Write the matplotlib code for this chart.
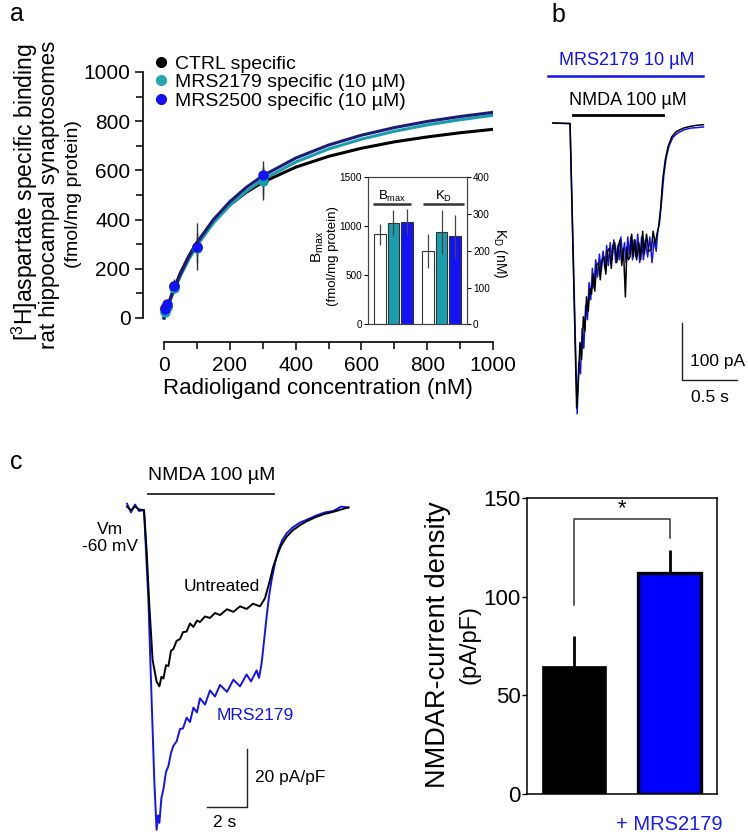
import matplotlib

matplotlib.use("Agg")
import matplotlib.pyplot as plt
from matplotlib.lines import Line2D

plt.rcParams["font.family"] = ["Liberation Sans", "DejaVu Sans"]
plt.rcParams["mathtext.fontset"] = "custom"
plt.rcParams["mathtext.rm"] = "Liberation Sans"

BLACK = "#000000"
TEAL = "#1a9dac"
BLUE = "#1212f5"
NAVY = "#1c1c78"

# ---- panel a: saturation binding ----
series_names = ["CTRL specific", "MRS2179 specific (10 µM)", "MRS2500 specific (10 µM)"]
conc = [3, 10, 30, 100, 300]
bound_ctrl = [40, 50, 130, 290, 560]
bound_mrs2179 = [25, 45, 120, 285, 555]
bound_mrs2500 = [35, 55, 132, 290, 580]
err_ctrl = [10, 10, 30, 95, 80]
err_mrs2179 = [8, 8, 20, 60, 60]
err_mrs2500 = [6, 6, 12, 35, 35]

curve_x = [0, 10, 25, 50, 75, 100, 150, 200, 250, 300, 400, 500, 600, 700, 800, 900, 1000]
curve_ctrl = [0, 44, 102, 184, 251, 307, 394, 460, 511, 552, 613, 657, 690, 716, 736, 753, 767]
curve_mrs2179 = [0, 40, 94, 172, 238, 294, 386, 458, 515, 562, 634, 687, 727, 759, 785, 806, 824]
curve_mrs2500 = [0, 42, 98, 179, 248, 306, 400, 473, 531, 578, 650, 703, 743, 774, 799, 819, 836]

# inset: Bmax (left axis) and KD (right axis)
bmax_values = [918, 1031, 1041]
bmax_err = [105, 133, 133]
kd_values = [200, 251, 239]
kd_err = [47, 61, 59]

# ---- panel b: NMDA current with MRS2179 ----
b_time_ctrl = [0, 0.155, 0.215, 0.23, 0.245, 0.26, 0.276, 0.29, 0.305, 0.321,
               0.335, 0.35, 0.367, 0.38, 0.395, 0.415, 0.43, 0.445, 0.464, 0.48,
               0.495, 0.512, 0.53, 0.545, 0.561, 0.58, 0.595, 0.609, 0.625, 0.64,
               0.658, 0.672, 0.685, 0.70, 0.715, 0.73, 0.745, 0.76, 0.78, 0.797,
               0.815, 0.83, 0.85, 0.87, 0.894, 0.91, 0.93, 0.945, 0.96, 0.978,
               0.997, 1.02, 1.045, 1.08, 1.12, 1.185, 1.245, 1.305, 1.367]
b_curr_ctrl = [0, -1, -500, -455, -385, -415, -340, -365, -305, -330,
               -290, -300, -265, -295, -250, -245, -275, -240, -235, -265,
               -225, -220, -255, -215, -210, -245, -215, -205, -250, -220,
               -305, -218, -240, -235, -195, -235, -205, -240, -210, -240,
               -190, -230, -195, -225, -222, -190, -212, -195, -182, -150,
               -100, -65, -42, -24, -15, -9, -6, -4, -3]
b_time_mrs = [0, 0.155, 0.22, 0.235, 0.25, 0.265, 0.28, 0.297, 0.313, 0.328,
              0.343, 0.358, 0.373, 0.388, 0.405, 0.422, 0.438, 0.455, 0.472, 0.488,
              0.503, 0.52, 0.537, 0.553, 0.57, 0.588, 0.602, 0.617, 0.633, 0.65,
              0.665, 0.68, 0.693, 0.708, 0.723, 0.738, 0.753, 0.77, 0.788, 0.805,
              0.822, 0.84, 0.86, 0.88, 0.9, 0.92, 0.938, 0.952, 0.968, 0.988,
              1.008, 1.03, 1.055, 1.09, 1.13, 1.19, 1.25, 1.31, 1.367]
b_curr_mrs = [0, -1, -510, -420, -440, -360, -395, -320, -345, -280,
              -310, -255, -290, -240, -270, -230, -260, -225, -255, -215,
              -250, -210, -240, -205, -245, -215, -240, -200, -235, -210,
              -245, -200, -230, -200, -240, -205, -235, -195, -245, -200,
              -240, -205, -235, -200, -245, -205, -225, -190, -175, -135,
              -90, -60, -40, -25, -18, -12, -9, -8, -7]

# ---- panel c: current density traces ----
c_time_ctrl = [0, 0.2, 0.4, 0.6, 0.85, 0.98, 1.12, 1.28, 1.48, 1.62,
               1.72, 1.82, 1.95, 2.07, 2.2, 2.32, 2.48, 2.65, 2.8, 2.98,
               3.15, 3.32, 3.5, 3.65, 3.9, 4.15, 4.4, 4.65, 5.0, 5.32,
               5.65, 5.98, 6.3, 6.65, 6.9, 7.15, 7.3, 7.48, 7.7, 7.98,
               8.3, 8.65, 9.0, 9.48, 9.9, 10.32, 10.7, 11.07]
c_dens_ctrl = [0.5, -0.8, 0.6, -0.5, -0.7, -14.5, -34, -52.4, -59.9, -61.5,
               -58.2, -58.8, -54.2, -54.5, -49.2, -48.6, -45.8, -45.2, -42.8, -42.6,
               -39.8, -41.0, -38.8, -39.3, -37.4, -37.9, -36.2, -36.9, -34.9, -35.8,
               -33.9, -34.8, -33.0, -33.9, -31.1, -24.8, -20.5, -16.8, -13.0, -9.9,
               -7.6, -5.9, -4.5, -3, -2.0, -1.3, -0.5, 0.2]
c_time_mrs = [0, 0.2, 0.4, 0.6, 0.85, 1.07, 1.23, 1.37, 1.48, 1.55,
              1.62, 1.72, 1.82, 1.95, 2.07, 2.2, 2.32, 2.48, 2.65, 2.8,
              2.98, 3.15, 3.32, 3.5, 3.65, 3.9, 4.15, 4.4, 4.65, 5.0,
              5.32, 5.65, 5.98, 6.2, 6.48, 6.6, 6.73, 6.85, 6.98, 7.1,
              7.23, 7.4, 7.57, 7.75, 7.98, 8.3, 8.65, 9.0, 9.48, 9.9,
              10.32, 10.7, 11.07]
c_dens_mrs = [1.5, -1.5, 1.2, -1.0, -0.7, -31.7, -66, -95, -111, -106,
              -108.6, -100, -97, -91, -89, -84.5, -82.0, -80.5, -76.2, -76.0,
              -72.3, -73.8, -68.8, -70.5, -65.6, -67.8, -62.9, -65.0, -61.0, -63.4,
              -59.2, -61.5, -57.4, -59.8, -56.0, -58.6, -53.6, -46, -37.5, -30.5,
              -24.8, -19, -14.5, -11.2, -8.7, -6.6, -5, -4, -2.5, -1.5,
              -1.0, 0.5, 0.2]

density_groups = ["Untreated", "+ MRS2179"]
density_mean = [64.6, 112.0]
density_sem = [15.6, 11.8]

W, H = 748, 840


def rect(left, top, right, bottom):
    return [left / W, 1 - bottom / H, (right - left) / W, (bottom - top) / H]


fig = plt.figure(figsize=(W / 100, H / 100), dpi=100)

# ================= panel a =================
ax = fig.add_axes(rect(143, 72, 493, 342))
for cy, color in ((curve_ctrl, BLACK), (curve_mrs2179, TEAL), (curve_mrs2500, NAVY)):
    ax.plot(curve_x, cy, color=color, linewidth=2.2, zorder=2)
for y, e, color in ((bound_ctrl, err_ctrl, BLACK),
                    (bound_mrs2179, err_mrs2179, TEAL),
                    (bound_mrs2500, err_mrs2500, BLUE)):
    ax.errorbar(conc, y, yerr=e, fmt="o", color=color, ecolor="#333333",
                elinewidth=1.0, capsize=0, markersize=6.5, zorder=3, clip_on=False)
ax.set_xlim(-64, 1000)
ax.set_ylim(-97.6, 1000)
for side in ("top", "right"):
    ax.spines[side].set_visible(False)
ax.spines["left"].set_bounds(0, 1000)
ax.spines["bottom"].set_bounds(0, 1000)
for s in ("left", "bottom"):
    ax.spines[s].set_linewidth(1.2)
ax.set_xticks(range(0, 1001, 200))
ax.set_xticks(range(100, 1000, 200), minor=True)
ax.set_yticks(range(0, 1001, 200))
ax.set_yticks(range(100, 1000, 200), minor=True)
ax.tick_params(which="both", direction="out", width=1.1, labelsize=15)
ax.tick_params(which="major", length=6)
ax.tick_params(which="minor", length=5)
ax.tick_params(axis="y", pad=3)
ax.tick_params(axis="x", pad=4)
ax.set_xlabel("Radioligand concentration (nM)", fontsize=16, labelpad=2)

fig.text(25 / W, 1 - 192 / H, "[$\\mathregular{^3}$H]aspartate specific binding",
         rotation=90, ha="center", va="center", fontsize=16.5)
fig.text(50 / W, 1 - 195 / H, "rat hippocampal synaptosomes",
         rotation=90, ha="center", va="center", fontsize=16)
fig.text(74 / W, 1 - 194 / H, "(fmol/mg protein)",
         rotation=90, ha="center", va="center", fontsize=14)

handles = [Line2D([0], [0], marker="o", linestyle="none", color=c, markersize=7)
           for c in (BLACK, "#22a6b3", BLUE)]
fig.legend(handles, series_names, loc="upper left", bbox_to_anchor=(153 / W, 1 - 55 / H),
           frameon=False, fontsize=14, handlelength=0.8, handletextpad=0.35,
           labelspacing=0.05, borderpad=0, borderaxespad=0)

# inset
ins = fig.add_axes(rect(368.3, 177.3, 466.7, 324.3))
ins2 = ins.twinx()
bar_colors = ["white", TEAL, BLUE]
bmax_pos = [1.0, 2.15, 3.3]
kd_pos = [5.1, 6.25, 7.4]
ins.bar(bmax_pos, bmax_values, width=0.95, color=bar_colors, edgecolor="#333333",
        linewidth=0.8, zorder=2)
ins.errorbar(bmax_pos, bmax_values, yerr=bmax_err, fmt="none", ecolor="#444444",
             elinewidth=0.9, capsize=0, zorder=3)
ins2.bar(kd_pos, kd_values, width=0.95, color=bar_colors, edgecolor="#333333",
         linewidth=0.8, zorder=2)
ins2.errorbar(kd_pos, kd_values, yerr=kd_err, fmt="none", ecolor="#444444",
              elinewidth=0.9, capsize=0, zorder=3)
ins.set_xlim(0, 8.4)
ins.set_ylim(0, 1500)
ins2.set_ylim(0, 400)
ins.set_xticks([])
ins.set_yticks([0, 500, 1000, 1500])
ins2.set_yticks([0, 100, 200, 300, 400])
for a in (ins, ins2):
    a.tick_params(direction="out", length=3, width=0.8, labelsize=7.2, pad=1.5)
    for s in a.spines.values():
        s.set_linewidth(0.8)
        s.set_color("#444444")
ins.plot([0.4, 3.65], [1227, 1227], color="#333333", linewidth=1.8, solid_capstyle="butt")
ins.plot([4.67, 8.18], [1227, 1227], color="#333333", linewidth=1.8, solid_capstyle="butt")
ins.text(2.05, 1300, "$\\mathregular{B_{max}}$", ha="center", va="center", fontsize=9.5)
ins.text(6.4, 1300, "$\\mathregular{K_D}$", ha="center", va="center", fontsize=9.5)
fig.text(318 / W, 1 - 247 / H, "$\\mathregular{B_{max}}$", rotation=90,
         ha="center", va="center", fontsize=11)
fig.text(333 / W, 1 - 256 / H, "(fmol/mg protein)", rotation=90,
         ha="center", va="center", fontsize=9.5)
fig.text(500 / W, 1 - 253 / H, "$\\mathregular{K_D}$ (nM)", rotation=270,
         ha="center", va="center", fontsize=10)

fig.text(17 / W, 1 - 14 / H, "a", ha="center", va="center", fontsize=18)

# ================= panel b =================
axb = fig.add_axes(rect(540, 40, 745, 420))
axb.plot(b_time_mrs, b_curr_mrs, color=BLUE, linewidth=1.1)
axb.plot(b_time_ctrl, b_curr_ctrl, color=BLACK, linewidth=1.1)
axb.set_xlim(-0.118, 1.745)
axb.set_ylim(-521, 145.6)
axb.axis("off")
axb.text(0.673, 110.5, "MRS2179 10 µM", color=BLUE, ha="center", va="center", fontsize=13)
axb.plot([-0.045, 1.364], [82.5, 82.5], color=BLUE, linewidth=1.8)
axb.text(0.68, 40, "NMDA 100 µM", ha="center", va="center", fontsize=13)
axb.plot([0.18, 1.0], [14, 14], color=BLACK, linewidth=2)
axb.plot([1.173, 1.173, 1.673], [-351, -451, -451], color="#222222", linewidth=1)
axb.text(1.245, -419, "100 pA", ha="left", va="center", fontsize=12.5)
axb.text(1.427, -481, "0.5 s", ha="center", va="center", fontsize=12.5)
fig.text(558 / W, 1 - 15 / H, "b", ha="center", va="center", fontsize=18)

# ================= panel c (traces) =================
axc = fig.add_axes(rect(60, 455, 380, 838))
axc.plot(c_time_mrs, c_dens_mrs, color=BLUE, linewidth=1.4)
axc.plot(c_time_ctrl, c_dens_ctrl, color=BLACK, linewidth=1.4)
axc.set_xlim(-3.35, 12.65)
axc.set_ylim(-113.8, 18.3)
axc.axis("off")
axc.text(4.25, 11.4, "NMDA 100 µM", ha="center", va="center", fontsize=14)
axc.plot([1.05, 7.35], [4.8, 4.8], color="#222222", linewidth=1.3)
axc.text(-0.85, -10.3, "Vm\n-60 mV", ha="center", va="center", fontsize=12.5,
         linespacing=1.1)
axc.text(4.75, -26.9, "Untreated", ha="center", va="center", fontsize=12.5)
axc.text(6.4, -71.4, "MRS2179", color=BLUE, ha="center", va="center", fontsize=12.5)
axc.plot([4.0, 6.0, 6.0], [-103.1, -103.1, -83.1], color="#222222", linewidth=1)
axc.text(6.4, -93, "20 pA/pF", ha="left", va="center", fontsize=12.5)
axc.text(4.9, -108.6, "2 s", ha="center", va="center", fontsize=12.5)
fig.text(16 / W, 1 - 462 / H, "c", ha="center", va="center", fontsize=18)

# ================= panel c (bars) =================
axd = fig.add_axes(rect(526.7, 498.3, 717.3, 794))
bar_pos = [0.75, 2.25]
axd.bar(bar_pos, density_mean, width=1.0, color=[BLACK, "#0000ff"],
        edgecolor=BLACK, linewidth=[1.2, 2.4], zorder=2)
axd.errorbar(bar_pos, density_mean, yerr=[[0, 0], density_sem], fmt="none",
             ecolor=BLACK, elinewidth=2, capsize=0, zorder=1)
axd.plot([0.75, 0.75, 2.25, 2.25], [95.9, 139.5, 139.5, 129.7], color="#333333",
         linewidth=1.1)
axd.text(1.5, 144.5, "*", ha="center", va="center", fontsize=16)
axd.set_xlim(0, 3)
axd.set_ylim(0, 150)
axd.set_xticks([])
axd.set_yticks([0, 50, 100, 150])
axd.tick_params(direction="out", length=3.5, width=1, labelsize=16, pad=1)
for s in axd.spines.values():
    s.set_linewidth(1.1)
fig.text(438 / W, 1 - 645 / H, "NMDAR-current density", rotation=90,
         ha="center", va="center", fontsize=19.5)
fig.text(470 / W, 1 - 644 / H, "(pA/pF)", rotation=90,
         ha="center", va="center", fontsize=17)
fig.text(669 / W, 1 - 825 / H, density_groups[1], color="#1a1aff",
         ha="center", va="center", fontsize=14.5)

fig.savefig("out.png", dpi=100)
